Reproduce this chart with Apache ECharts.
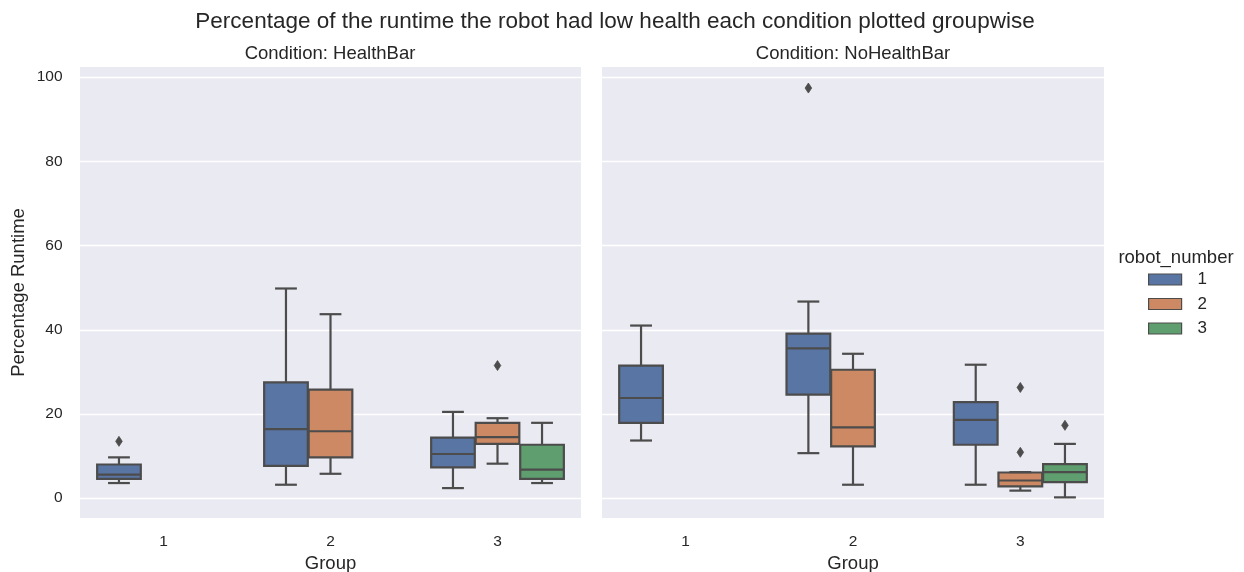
<!DOCTYPE html>
<html>
<head>
<meta charset="utf-8">
<script src="https://cdn.jsdelivr.net/npm/echarts@6/dist/echarts.min.js"></script>
<style>html,body{margin:0;padding:0;background:#fff}#c{width:1244px;height:572px}</style>
</head>
<body>
<div id="c"></div>
<script>
// ---- data (box stats: [groupIndex, whiskerLow, q1, median, q3, whiskerHigh]) ----
const groups = ['1', '2', '3'];
const robotNames = ['1', '2', '3'];
const yTicks = [0, 20, 40, 60, 80, 100];
const conditions = ['Condition: HealthBar', 'Condition: NoHealthBar'];

const hbRobot1 = [[0, 3.6, 4.6, 5.6, 8.0, 9.7], [1, 3.2, 7.7, 16.4, 27.5, 49.8], [2, 2.4, 7.3, 10.5, 14.4, 20.5]];
const hbRobot2 = [[1, 5.8, 9.7, 15.9, 25.8, 43.7], [2, 8.2, 12.9, 14.5, 17.9, 19.0]];
const hbRobot3 = [[2, 3.6, 4.6, 6.8, 12.7, 17.9]];
const hbOut1 = [[0, 13.5]];
const hbOut2 = [[2, 31.5]];
const hbOut3 = [];

const nhRobot1 = [[0, 13.7, 17.9, 23.8, 31.5, 41.0], [1, 10.7, 24.6, 35.6, 39.1, 46.7], [2, 3.2, 12.7, 18.6, 22.8, 31.7]];
const nhRobot2 = [[1, 3.2, 12.3, 16.8, 30.5, 34.3], [2, 1.8, 2.8, 4.2, 6.1, 6.2]];
const nhRobot3 = [[2, 0.2, 3.8, 6.2, 8.1, 12.9]];
const nhOut1 = [[1, 97.4]];
const nhOut2 = [[2, 26.3], [2, 10.9]];
const nhOut3 = [[2, 17.3]];

// ---- style ----
const colors = ['#5875a4', '#cc8963', '#5f9e6e'];
const gray = '#4c4c4c';
const textColor = '#262626';
const font = "'Liberation Sans', Arial, sans-serif";
const nHue = 3;
const dodge = 0.8 / nHue;

function boxRender(hue, color) {
  return function (params, api) {
    const cat = api.value(0);
    const band = api.size([1, 0])[0];
    const cx = api.coord([cat, 0])[0] + (hue - (nHue - 1) / 2) * band * dodge;
    const w = band * dodge * 0.98;
    const y = i => api.coord([cat, api.value(i)])[1];
    const yl = y(1), q1 = y(2), md = y(3), q3 = y(4), yh = y(5);
    const ls = { stroke: gray, lineWidth: 2.2 };
    const cw = w / 4;
    return {
      type: 'group',
      children: [
        { type: 'rect', shape: { x: cx - w / 2, y: q3, width: w, height: q1 - q3 }, style: { fill: color, stroke: gray, lineWidth: 2.2 } },
        { type: 'line', shape: { x1: cx, y1: q3, x2: cx, y2: yh }, style: ls },
        { type: 'line', shape: { x1: cx, y1: q1, x2: cx, y2: yl }, style: ls },
        { type: 'line', shape: { x1: cx - cw, y1: yh, x2: cx + cw, y2: yh }, style: ls },
        { type: 'line', shape: { x1: cx - cw, y1: yl, x2: cx + cw, y2: yl }, style: ls },
        { type: 'line', shape: { x1: cx - w / 2, y1: md, x2: cx + w / 2, y2: md }, style: ls }
      ]
    };
  };
}
function outRender(hue) {
  return function (params, api) {
    const cat = api.value(0);
    const band = api.size([1, 0])[0];
    const cx = api.coord([cat, 0])[0] + (hue - (nHue - 1) / 2) * band * dodge;
    const cy = api.coord([cat, api.value(1)])[1];
    return {
      type: 'polygon',
      shape: { points: [[cx, cy - 5], [cx + 3.3, cy], [cx, cy + 5], [cx - 3.3, cy]] },
      style: { fill: gray, stroke: gray, lineWidth: 0.8 }
    };
  };
}

const boxSets = [[hbRobot1, hbRobot2, hbRobot3], [nhRobot1, nhRobot2, nhRobot3]];
const outSets = [[hbOut1, hbOut2, hbOut3], [nhOut1, nhOut2, nhOut3]];
const series = [];
for (let g = 0; g < 2; g++) {
  for (let h = 0; h < 3; h++) {
    series.push({
      type: 'custom', name: robotNames[h], xAxisIndex: g, yAxisIndex: g,
      itemStyle: { color: colors[h] },
      renderItem: boxRender(h, colors[h]),
      encode: { x: 0, y: [1, 2, 3, 4, 5] },
      data: boxSets[g][h], silent: true
    });
  }
  for (let h = 0; h < 3; h++) {
    series.push({
      type: 'custom', name: robotNames[h], xAxisIndex: g, yAxisIndex: g,
      itemStyle: { color: colors[h] },
      renderItem: outRender(h),
      encode: { x: 0, y: 1 },
      data: outSets[g][h], silent: true
    });
  }
}

const grids = [
  { left: 80, right: 663, top: 67, bottom: 54, show: true, backgroundColor: '#eaeaf2', borderWidth: 0, containLabel: false, outerBoundsMode: 'none' },
  { left: 602, right: 140, top: 67, bottom: 54, show: true, backgroundColor: '#eaeaf2', borderWidth: 0, containLabel: false, outerBoundsMode: 'none' }
];
const xAxes = [0, 1].map(i => ({
  type: 'category', gridIndex: i, data: groups,
  axisLine: { show: false }, axisTick: { show: false }, splitLine: { show: false },
  axisLabel: { color: textColor, fontSize: 15.5, fontFamily: font, margin: 16 },
  name: 'Group', nameLocation: 'middle', nameGap: 35.5,
  nameTextStyle: { color: textColor, fontSize: 18.5, fontFamily: font }
}));
const yAxes = [0, 1].map(i => ({
  type: 'value', gridIndex: i, min: -4.7, max: 102.4,
  axisLine: { show: false },
  axisTick: { show: false, customValues: yTicks },
  axisLabel: { show: i === 0, customValues: yTicks, color: textColor, fontSize: 15.5, fontFamily: font, margin: 17.5 },
  splitLine: { show: true, lineStyle: { color: '#ffffff', width: 1.3 } },
  name: i === 0 ? 'Percentage Runtime' : '', nameLocation: 'middle', nameGap: 52,
  nameTextStyle: { color: textColor, fontSize: 18.5, fontFamily: font }
}));

const chart = echarts.init(document.getElementById('c'), null, { renderer: 'canvas' });
chart.setOption({
  animation: false,
  backgroundColor: '#ffffff',
  grid: grids,
  xAxis: xAxes,
  yAxis: yAxes,
  legend: {
    data: robotNames.map((n, i) => ({ name: n, icon: 'rect', itemStyle: { color: colors[i], borderColor: gray, borderWidth: 1.2 } })),
    orient: 'vertical', left: 1148, top: 270, padding: 0, itemWidth: 33, itemHeight: 11, itemGap: 5.5,
    textStyle: { color: textColor, fontSize: 17, fontFamily: font, padding: [0, 0, 0, 11], lineHeight: 19 },
    selectedMode: false
  },
  graphic: [
    { type: 'text', x: 615, y: 22, style: { text: 'Percentage of the runtime the robot had low health each condition plotted groupwise', fill: textColor, font: "22.5px 'Liberation Sans', Arial, sans-serif", textAlign: 'center', textVerticalAlign: 'middle' } },
    { type: 'text', x: 330, y: 54, style: { text: conditions[0], fill: textColor, font: "18.5px 'Liberation Sans', Arial, sans-serif", textAlign: 'center', textVerticalAlign: 'middle' } },
    { type: 'text', x: 853, y: 54, style: { text: conditions[1], fill: textColor, font: "18.5px 'Liberation Sans', Arial, sans-serif", textAlign: 'center', textVerticalAlign: 'middle' } },
    { type: 'text', x: 1176, y: 258, style: { text: 'robot_number', fill: textColor, font: "18.5px 'Liberation Sans', Arial, sans-serif", textAlign: 'center', textVerticalAlign: 'middle' } }
  ],
  series: series
});
</script>
</body>
</html>
